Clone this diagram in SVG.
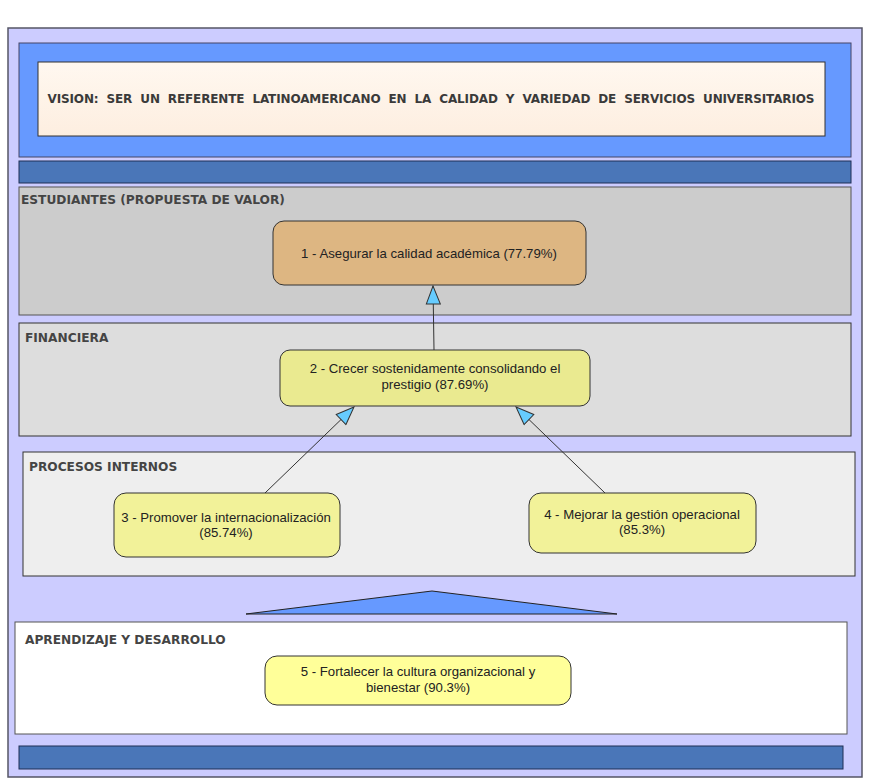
<svg xmlns="http://www.w3.org/2000/svg" width="869" height="783" viewBox="0 0 869 783">
<defs>
<linearGradient id="peach" x1="0" y1="0" x2="0" y2="1">
<stop offset="0" stop-color="#fff8f0"/>
<stop offset="1" stop-color="#fdeee0"/>
</linearGradient>
<marker id="arr" viewBox="0 0 20 16" refX="19" refY="8" markerWidth="20" markerHeight="16" markerUnits="userSpaceOnUse" orient="auto">
<path d="M1,1 L19,8 L1,15 Z" fill="#66ccff" stroke="#333" stroke-width="1"/>
</marker>
<style>
.frame{fill:#ccccff;stroke:#555566;stroke-width:1.5}
.bar{fill:#4a76b8;stroke:#1f2f55;stroke-width:1}
.lbl{font-family:"DejaVu Sans",Verdana,sans-serif;font-weight:bold;font-size:12.2px;fill:#444444}
.node{stroke:#333333;stroke-width:1}
.nt{font-family:"Liberation Sans",Arial,sans-serif;font-size:13.2px;fill:#222222;text-anchor:middle}
.conn{stroke:#333333;stroke-width:1;fill:none}
</style>
</defs>
<rect x="0" y="0" width="869" height="783" fill="#ffffff"/>
<rect class="frame" x="8" y="28" width="854" height="749"/>
<g id="vision">
<rect x="19" y="43" width="832" height="114" fill="#6699ff" stroke="#444466" stroke-width="1"/>
<rect x="38" y="62" width="787" height="74" fill="url(#peach)" stroke="#333333" stroke-width="1"/>
<text x="431" y="103" text-anchor="middle" textLength="767" lengthAdjust="spacing" style="font-family:'DejaVu Sans',Verdana,sans-serif;font-weight:bold;font-size:12px;fill:#3a3a3a;word-spacing:4px">VISION: SER UN REFERENTE LATINOAMERICANO EN LA CALIDAD Y VARIEDAD DE SERVICIOS UNIVERSITARIOS</text>
</g>
<rect class="bar" x="19" y="161" width="832" height="22"/>
<g id="p-estudiantes">
<rect x="19" y="187" width="832" height="128" fill="#cccccc" stroke="#555555" stroke-width="1"/>
<text class="lbl" x="21" y="204">ESTUDIANTES (PROPUESTA DE VALOR)</text>
</g>
<g id="p-financiera">
<rect x="19" y="323" width="832" height="113" fill="#dddddd" stroke="#333333" stroke-width="1"/>
<text class="lbl" x="25" y="342">FINANCIERA</text>
</g>
<g id="p-procesos">
<rect x="23" y="452" width="832" height="124" fill="#eeeeee" stroke="#333333" stroke-width="1"/>
<text class="lbl" x="29" y="471">PROCESOS INTERNOS</text>
</g>
<polygon points="246,614 432,591 617,614" fill="#6699ff" stroke="#222222" stroke-width="1"/>
<g id="p-aprendizaje">
<rect x="15" y="622" width="832" height="112" fill="#ffffff" stroke="#555555" stroke-width="1"/>
<text class="lbl" x="25" y="644">APRENDIZAJE Y DESARROLLO</text>
</g>
<rect class="bar" x="19" y="746" width="824" height="23"/>
<g id="connectors">
<line class="conn" x1="434" y1="350" x2="433" y2="286" marker-end="url(#arr)"/>
<line class="conn" x1="265" y1="493" x2="354" y2="407" marker-end="url(#arr)"/>
<line class="conn" x1="605" y1="493" x2="516" y2="407" marker-end="url(#arr)"/>
</g>
<g id="n1">
<rect class="node" x="273" y="221" width="313" height="64" rx="11" fill="#ddb682"/>
<text class="nt" x="429" y="258">1 - Asegurar la calidad académica (77.79%)</text>
</g>
<g id="n2">
<rect class="node" x="280" y="350" width="310" height="56" rx="10" fill="#eaea90"/>
<text class="nt" x="435" y="373">2 - Crecer sostenidamente consolidando el</text>
<text class="nt" x="435" y="389">prestigio (87.69%)</text>
</g>
<g id="n3">
<rect class="node" x="114" y="493" width="226" height="64" rx="12" fill="#f2f299"/>
<text class="nt" x="226" y="522">3 - Promover la internacionalización</text>
<text class="nt" x="226" y="537">(85.74%)</text>
</g>
<g id="n4">
<rect class="node" x="529" y="493" width="227" height="60" rx="12" fill="#f2f299"/>
<text class="nt" x="642" y="519">4 - Mejorar la gestión operacional</text>
<text class="nt" x="642" y="534">(85.3%)</text>
</g>
<g id="n5">
<rect class="node" x="265" y="656" width="306" height="49" rx="12" fill="#ffff99"/>
<text class="nt" x="418" y="676">5 - Fortalecer la cultura organizacional y</text>
<text class="nt" x="418" y="692">bienestar (90.3%)</text>
</g>
</svg>
